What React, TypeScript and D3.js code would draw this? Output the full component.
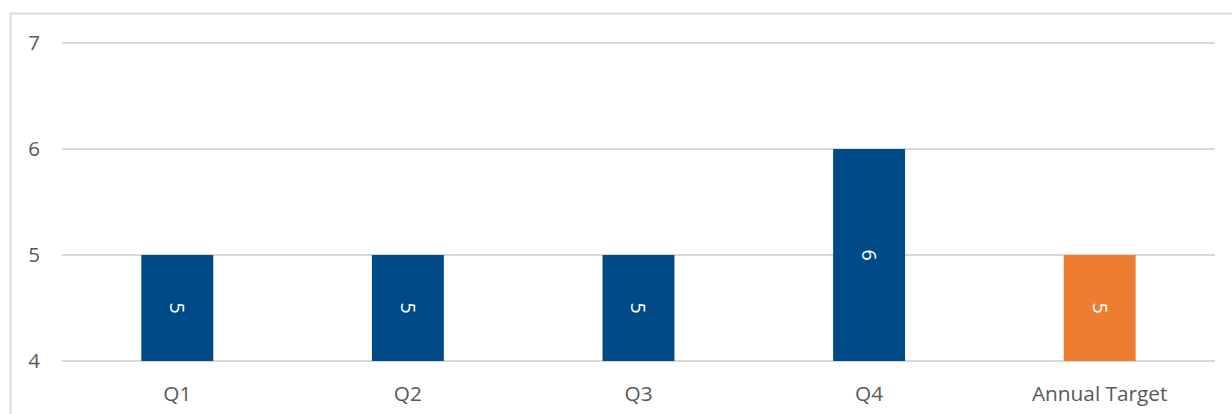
import React from "react";
import * as d3 from "d3";

const categories = ["Q1", "Q2", "Q3", "Q4", "Annual Target"];
const values = [5, 5, 5, 6, 5];
const barColors = ["#004A87", "#004A87", "#004A87", "#004A87", "#ED7D31"];
const yTicks = [4, 5, 6, 7];

const W = 1232;
const H = 414;
const FONT = "'Open Sans', 'Liberation Sans', sans-serif";

export default function App() {
  const x = d3.scaleBand<string>().domain(categories).range([62, 1215]).paddingInner(0.688).paddingOuter(0.344);
  const y = d3.scaleLinear().domain([4, 7]).range([361, 43]);
  return (
    <svg width={W} height={H} style={{ position: "absolute", left: 0, top: 0, background: "#fff" }}>
      <rect x={10.5} y={13.5} width={W + 20} height={H + 20} fill="#fff" stroke="#d9d9d9" strokeWidth={2} />
      {yTicks.map((t) => (
        <g key={t}>
          <line x1={62} x2={1215} y1={y(t)} y2={y(t)} stroke="#d9d9d9" strokeWidth={1.8} />
          <text x={40} y={y(t)} dy="0.36em" textAnchor="end" fontFamily={FONT} fontSize={20.5} fill="#595959">
            {t}
          </text>
        </g>
      ))}
      {categories.map((c, i) => {
        const bx = x(c)!;
        const top = y(values[i]);
        const bottom = y(4);
        const cx = bx + x.bandwidth() / 2;
        const cy = (top + bottom) / 2;
        return (
          <g key={c}>
            <rect x={bx} y={top} width={x.bandwidth()} height={bottom - top} fill={barColors[i]} />
            <text
              transform={`translate(${cx},${cy}) rotate(90)`}
              textAnchor="middle"
              dy="0.36em"
              fontFamily={FONT}
              fontSize={19.5}
              fill="#fff"
            >
              {values[i]}
            </text>
            <text x={cx} y={401} textAnchor="middle" fontFamily={FONT} fontSize={20.8} fill="#595959">
              {c}
            </text>
          </g>
        );
      })}
    </svg>
  );
}
